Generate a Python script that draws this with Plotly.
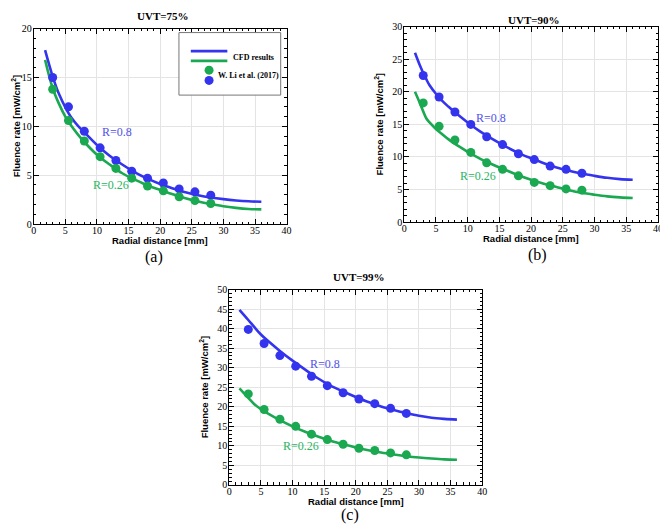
import plotly.graph_objects as go

# The page body adds an 8 px margin, so the figure is sized and laid out in
# screen pixels shifted by that margin.
OFF = 8
W, H = 668 - OFF, 531 - OFF

# ---------------- data ----------------
exp_x = [3, 5.5, 8, 10.5, 13, 15.5, 18, 20.5, 23, 25.5, 28]

# UVT = 75 %
a_cfd_x = [1.8, 3, 4, 5, 6, 7, 8, 10, 12, 14, 16, 18, 20, 22, 24, 26, 28, 30, 32, 34, 36]
a_cfd_r08 = [17.8, 15.1, 13.3, 11.95, 10.85, 10.05, 9.4, 8.1, 7.0, 6.1, 5.3, 4.65, 4.1, 3.65, 3.25, 2.95, 2.72, 2.55, 2.42, 2.33, 2.28]
a_cfd_r026 = [16.8, 13.9, 12.3, 11.0, 10.0, 9.15, 8.4, 7.1, 6.1, 5.2, 4.55, 3.95, 3.5, 3.05, 2.65, 2.32, 2.05, 1.82, 1.66, 1.55, 1.5]
a_exp_r08 = [15.0, 12.0, 9.5, 7.8, 6.5, 5.4, 4.7, 4.2, 3.6, 3.3, 2.95]
a_exp_r026 = [13.8, 10.6, 8.5, 6.9, 5.7, 4.7, 3.9, 3.4, 2.8, 2.4, 2.1]

# UVT = 90 %
b_cfd_x = [1.7, 2.5, 3, 3.5, 4, 5, 6, 7, 8, 10, 12, 14, 16, 18, 20, 22, 24, 26, 28, 30, 32, 34, 36]
b_cfd_r08 = [26.0, 24.0, 22.9, 21.9, 21.0, 19.7, 18.6, 17.7, 16.85, 15.3, 13.9, 12.7, 11.6, 10.6, 9.8, 9.05, 8.4, 7.9, 7.45, 7.1, 6.8, 6.6, 6.5]
b_cfd_r026 = [20.0, 18.2, 17.0, 15.9, 15.3, 14.3, 13.5, 12.7, 12.0, 10.8, 9.7, 8.8, 8.0, 7.2, 6.5, 5.9, 5.4, 4.9, 4.5, 4.2, 3.95, 3.8, 3.7]
b_exp_r08 = [22.5, 19.2, 16.9, 15.0, 13.1, 11.9, 10.5, 9.6, 8.6, 8.1, 7.5]
b_exp_r026 = [18.3, 14.7, 12.6, 10.7, 9.1, 8.1, 7.1, 6.1, 5.6, 5.1, 4.9]

# UVT = 99 %
c_cfd_x = [1.6, 3, 4, 5, 6, 8, 10, 12, 14, 16, 18, 20, 22, 24, 26, 28, 30, 32, 34, 36]
c_cfd_r08 = [44.8, 42.2, 40.3, 38.5, 37.0, 34.3, 31.8, 29.5, 27.3, 25.4, 23.9, 22.5, 21.2, 20.1, 19.2, 18.4, 17.7, 17.2, 16.9, 16.7]
c_cfd_r026 = [24.7, 22.3, 20.6, 19.4, 18.4, 16.6, 15.0, 13.6, 12.4, 11.3, 10.4, 9.6, 8.9, 8.3, 7.8, 7.35, 7.0, 6.75, 6.55, 6.45]
c_exp_r08 = [39.8, 36.2, 33.1, 30.4, 27.8, 25.4, 23.6, 22.0, 20.8, 19.6, 18.3]
c_exp_r026 = [23.3, 19.3, 16.8, 15.0, 13.0, 11.6, 10.4, 9.4, 8.8, 8.2, 7.7]

titles = ["UVT=75%", "UVT=90%", "UVT=99%"]
panel_tags = ["(a)", "(b)", "(c)"]
y_ranges = [[0, 20], [0, 30], [0, 50]]
x_range = [0, 40]
label_r08 = "R=0.8"
label_r026 = "R=0.26"
r08_pos = [(13.1, 9.4), (13.7, 16.0), (15.2, 31.0)]
r026_pos = [(12.3, 4.0), (11.6, 7.05), (11.4, 10.0)]

BLUE = "#3434ee"
GREEN = "#1aa851"
BLUE_T = "#5151ea"
GREEN_T = "#2ab55f"

# ---------------- layout helpers (screen pixels -> paper) ----------------
def px(x):
    return (x - OFF) / W

def py(y):
    return 1 - (y - OFF) / H

# screen-pixel boxes of panels: (left, right, top, bottom)
boxes = [(31, 287, 23, 223), (406, 663, 21, 221), (229, 485, 290, 490)]

fig = go.Figure()

series = [
    (a_cfd_x, a_cfd_r08, a_cfd_r026, a_exp_r08, a_exp_r026),
    (b_cfd_x, b_cfd_r08, b_cfd_r026, b_exp_r08, b_exp_r026),
    (c_cfd_x, c_cfd_r08, c_cfd_r026, c_exp_r08, c_exp_r026),
]

for i, (cx, c08, c026, e08, e026) in enumerate(series):
    xa = "x" if i == 0 else f"x{i+1}"
    ya = "y" if i == 0 else f"y{i+1}"
    fig.add_trace(go.Scatter(x=cx, y=c08, mode="lines", line=dict(color=BLUE, width=2.6, shape="spline"),
                             xaxis=xa, yaxis=ya, showlegend=False))
    fig.add_trace(go.Scatter(x=cx, y=c026, mode="lines", line=dict(color=GREEN, width=2.6, shape="spline"),
                             xaxis=xa, yaxis=ya, showlegend=False))
    fig.add_trace(go.Scatter(x=exp_x, y=e08, mode="markers", marker=dict(color=BLUE, size=9),
                             xaxis=xa, yaxis=ya, showlegend=False))
    fig.add_trace(go.Scatter(x=exp_x, y=e026, mode="markers", marker=dict(color=GREEN, size=9),
                             xaxis=xa, yaxis=ya, showlegend=False))

tickfont = dict(family="Liberation Serif", size=10, color="black")

def axis_common():
    return dict(
        ticks="inside", ticklen=5, tickwidth=1, tickcolor="black",
        mirror="allticks", showline=True, linecolor="black", linewidth=1,
        showgrid=True, gridcolor="#e4e4e4", gridwidth=1, zeroline=False,
        tickfont=tickfont,
        minor=dict(dtick=1, ticks="inside", ticklen=2.5, tickcolor="black", tickwidth=1, showgrid=False),
    )

layout = dict(width=W, height=H, margin=dict(l=0, r=0, t=0, b=0),
              plot_bgcolor="white", paper_bgcolor="white", showlegend=False)

annotations = []
shapes = []
for i, (l, r, t, b) in enumerate(boxes):
    xk = "xaxis" if i == 0 else f"xaxis{i+1}"
    yk = "yaxis" if i == 0 else f"yaxis{i+1}"
    ya = "y" if i == 0 else f"y{i+1}"
    xa = "x" if i == 0 else f"x{i+1}"
    xd = axis_common()
    xd.update(domain=[px(l), px(r)], range=x_range, dtick=5, tick0=0, anchor=ya, ticklabelstandoff=-3)
    yd = axis_common()
    yd.update(domain=[py(b), py(t)], range=y_ranges[i], dtick=5, tick0=0, anchor=xa, ticklabelstandoff=-1)
    layout[xk] = xd
    layout[yk] = yd
    cx = (l + r) / 2
    cy = (t + b) / 2
    # axis titles
    annotations.append(dict(x=px(cx), y=py(b + 17), xref="paper", yref="paper", showarrow=False,
                            text="<b>Radial distance [mm]</b>", xanchor="center", yanchor="middle",
                            font=dict(family="Liberation Sans", size=9.5, color="black")))
    ytx = max(l - 25.5, 13)
    annotations.append(dict(x=px(ytx), y=py(cy), xref="paper", yref="paper", showarrow=False,
                            text="<b>Fluence rate [mW/cm<sup>2</sup>]</b>", textangle=-90,
                            xanchor="center", yanchor="middle",
                            font=dict(family="Liberation Sans", size=9.5, color="black")))
    # panel title
    ty = t - 13 if i != 1 else max(t - 15, 14)
    annotations.append(dict(x=px(cx + 3), y=py(ty), xref="paper", yref="paper",
                            showarrow=False, text=f"<b>{titles[i]}</b>", xanchor="center", yanchor="middle",
                            font=dict(family="Liberation Serif", size=11, color="black")))
    # panel tag
    annotations.append(dict(x=px(cx - 6 if i != 1 else cx + 6), y=py(min(b + 34, 521)), xref="paper", yref="paper",
                            showarrow=False, text=panel_tags[i], xanchor="center", yanchor="middle",
                            font=dict(family="Liberation Serif", size=16, color="black")))
    # R labels
    annotations.append(dict(x=r08_pos[i][0], y=r08_pos[i][1], xref=xa, yref=ya, showarrow=False,
                            text=label_r08, xanchor="center", yanchor="middle",
                            font=dict(family="Liberation Serif", size=12, color=BLUE_T)))
    annotations.append(dict(x=r026_pos[i][0], y=r026_pos[i][1], xref=xa, yref=ya, showarrow=False,
                            text=label_r026, xanchor="center", yanchor="middle",
                            font=dict(family="Liberation Serif", size=12, color=GREEN_T)))

# legend box in panel (a)
shapes.append(dict(type="rect", xref="paper", yref="paper", x0=px(178), x1=px(281), y0=py(91), y1=py(27),
                   line=dict(color="#777777", width=1), fillcolor="white", layer="above"))
shapes.append(dict(type="line", xref="paper", yref="paper", x0=px(190), x1=px(227), y0=py(46), y1=py(46),
                   line=dict(color=BLUE, width=2.6), layer="above"))
shapes.append(dict(type="line", xref="paper", yref="paper", x0=px(190), x1=px(227), y0=py(56), y1=py(56),
                   line=dict(color=GREEN, width=2.6), layer="above"))
for yy, col in [(65.5, GREEN), (76, BLUE)]:
    shapes.append(dict(type="circle", xref="paper", yref="paper", xsizemode="pixel", ysizemode="pixel",
                       xanchor=px(208.5), yanchor=py(yy), x0=-4.5, x1=4.5, y0=-4.5, y1=4.5,
                       fillcolor=col, line=dict(color=col, width=0), layer="above"))
annotations.append(dict(x=px(253), y=py(53), xref="paper", yref="paper", showarrow=False,
                        text="<b>CFD results</b>", xanchor="center", yanchor="middle",
                        font=dict(family="Liberation Serif", size=8, color="black")))
annotations.append(dict(x=px(248.5), y=py(71), xref="paper", yref="paper", showarrow=False,
                        text="<b>W. Li et al. (2017)</b>", xanchor="center", yanchor="middle",
                        font=dict(family="Liberation Serif", size=8, color="black")))

layout["annotations"] = annotations
layout["shapes"] = shapes
fig.update_layout(**layout)
fig.write_html("out.html")
